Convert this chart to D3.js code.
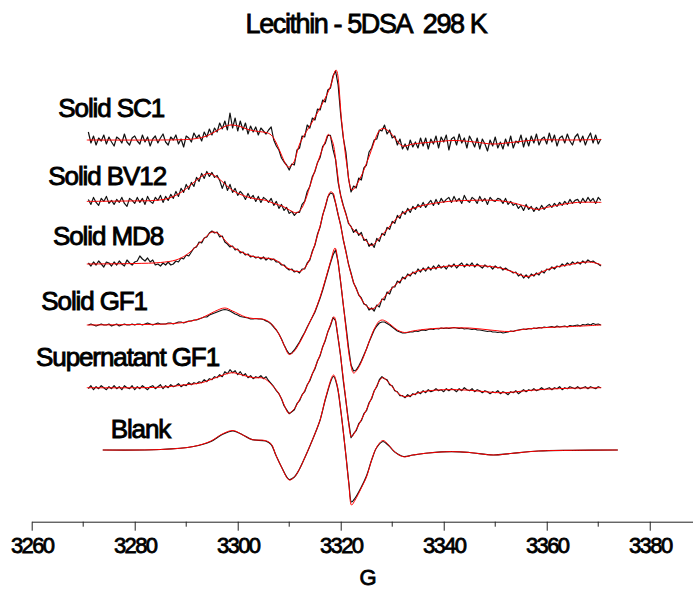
<!DOCTYPE html>
<html>
<head>
<meta charset="utf-8">
<script src="https://d3js.org/d3.v7.min.js"></script>
<style>
  body { margin: 0; background: #fff; }
  svg { display: block; }
  text { font-family: "Liberation Sans", Arial, sans-serif; fill: #000; }
</style>
</head>
<body>
<div id="chart"></div>
<script>
// spectra, top to bottom
const names = ['Solid SC1', 'Solid BV12', 'Solid MD8', 'Solid GF1', 'Supernatant GF1', 'Blank']
// vertical stacking offsets (same units as intensity)
const offsets = [381.7, 320.3, 257.7, 196.7, 134, 71.7]

// experimental traces: sampled every 0.5 G from 3271 G
const fieldStart = 3271
const fieldStep = 0.5
const expSC1 = [
  8, -3, 4, -5, 2, -1, 5, -4, 3, -2,
  -6, 3, 1, -3, 6, -2, -5, 2, 4, -1,
  -4, 5, -2, 3, -6, 1, 4, -3, 2, 6,
  -2, -5, 3, 0, 5, -4, 1, -7, 4, 2,
  -2, 7, 2, 5, -1, 8, 3, 11, 5, 12,
  8, 17, 11, 19, 10, 27, 12, 22, 9, 19,
  10, 17, 6, 14, 8, 13, 5, 12, 9, 6,
  10, 13, 0, -6, -10, -18, -22, -25, -30, -24,
  -25, -10, -8, 4, 3, 15, 12, 22, 20, 31,
  30, 40, 38, 50, 52, 64, 69, 55, 25, 2,
  -12, -38, -52, -46, -48, -38, -40, -28, -25, -12,
  -8, 0, 1, 10, 9, 15, 6, 10, 2, 4,
  -5, 1, -9, -4, -10, 0, -7, -2, -8, 2,
  -6, 2, -9, 1, -4, 4, -8, 3, -2, 5,
  -10, 1, 3, -5, 6, -3, 2, -8, 4, -1,
  -7, 2, -9, 1, -4, -11, 0, -6, 3, -8,
  -2, -9, 1, -6, 4, -8, -1, -3, 5, -7,
  2, -6, 4, -3, 6, -5, 1, 3, -4, 7,
  -2, 5, -6, 2, 4, -3, 6, -1, -5, 3,
  6, -2, 4, -5, 2, 7, -3, 5, -4, 1
]
const expBV12 = [
  2, -3, 4, -1, -4, 3, 0, 5, -2, 1,
  -3, 2, -1, 4, -2, -5, 3, 1, -2, 4,
  -1, 3, -3, 5, 0, -2, 4, 1, 6, -1,
  5, 1, 7, 3, 10, 5, 13, 9, 17, 12,
  19, 15, 24, 20, 28, 23, 30, 25, 29, 24,
  26, 21, 13, 20, 11, 17, 9, 13, 6, 10,
  7, 2, 8, 3, 6, 0, 5, -1, 4, 2,
  -1, 3, -4, 0, -7, -3, -9, -6, -12, -10,
  -14, -11, -11, -3, 0, 10, 15, 25, 30, 39,
  44, 55, 58, 66, 66, 52, 42, 19, 6, -4,
  -12, -22, -25, -31, -28, -34, -31, -39, -38, -45,
  -42, -46, -37, -40, -32, -34, -26, -28, -20, -22,
  -14, -17, -10, -13, -7, -11, -5, -8, -3, -6,
  -1, -6, -2, 1, -4, 2, -3, 3, -1, 2,
  4, -1, 5, 0, 3, -2, 6, 1, -1, 4,
  2, -2, 5, 0, 3, -3, 4, 1, 0, 3,
  2, -2, 3, -3, 0, -4, -2, -7, -4, -9,
  -3, -8, -5, -10, -6, -9, -4, -8, -5, -3,
  -6, -2, -5, -1, -4, 0, -3, 2, -2, 1,
  2, -2, 3, -1, 4, 0, 3, -2, 4, 1
]
const expMD8 = [
  1, -2, 2, -1, 3, 0, -3, 2, 1, -2,
  2, -1, 3, 0, -2, 4, 1, -1, 2, 3,
  8, 5, 3, 6, 2, 4, -1, 0, -2, 1,
  -1, 2, -1, 0, 3, 2, 6, 5, 9, 8,
  12, 16, 17, 22, 21, 26, 27, 31, 33, 31,
  32, 27, 28, 22, 20, 17, 18, 14, 15, 11,
  12, 9, 10, 7, 8, 6, 7, 5, 7, 4,
  6, 4, 5, 2, 2, -1, -1, -4, -6, -5,
  -8, -7, -9, -5, -5, 1, 4, 13, 19, 30,
  37, 49, 57, 67, 71, 70, 61, 49, 39, 24,
  13, 0, -9, -19, -24, -31, -34, -40, -41, -46,
  -44, -47, -41, -43, -35, -36, -28, -30, -23, -23,
  -17, -19, -13, -15, -10, -12, -8, -10, -5, -8,
  -4, -7, -3, -6, -2, -5, -1, -4, -2, -5,
  -1, -3, 0, -4, -1, 1, -3, 0, -2, 1,
  -3, 0, -2, -4, -1, -3, -2, -5, -2, -4,
  -3, -6, -4, -6, -7, -9, -8, -12, -10, -14,
  -11, -14, -10, -12, -9, -11, -7, -9, -5, -6,
  -3, -5, -2, -3, 0, -2, 1, -1, 2, 0,
  2, 0, 3, 1, 4, 2, 3, 1, 0, -2
]
const expGF1 = [
  0, 1, 0, -1, 0, 1, 0, 0, 1, -1,
  0, 1, -1, 0, 1, 0, 0, 1, 0, 1,
  1, 0, 1, 2, 1, 0, 1, 2, 1, 1,
  1, 2, 2, 1, 2, 3, 3, 2, 3, 4,
  4, 5, 5, 6, 7, 8, 8, 10, 11, 12,
  13, 14, 15, 15.5, 15, 14, 12.5, 11, 10, 8.5,
  8, 7.5, 7, 6, 6, 6.5, 6, 6, 5.5, 4,
  3, 1, -2, -5, -9, -14, -20, -25, -29, -28,
  -25, -21, -17, -12, -7.5, -2, 3, 8, 13, 20,
  27, 35, 44, 53, 62, 70, 75, 63, 42, 20,
  0, -22, -40, -46, -45, -41, -36, -30, -24, -17,
  -11, -5, -1, 2, 3, 3, 1.5, 0, -2, -4,
  -6, -7, -8, -8, -7.5, -7, -7, -6, -6.5, -5.5,
  -5, -5.5, -4.5, -4, -4.5, -3.5, -4, -3, -3.5, -3,
  -3.5, -3, -2.5, -3, -3.5, -3, -4, -3.5, -4, -4.5,
  -4, -5, -5, -5.5, -6, -6.5, -6, -7, -7, -7.5,
  -7, -8, -7.5, -7, -6, -6.5, -5.5, -5, -4.5, -4,
  -4.5, -3.5, -4, -3, -3.5, -2.5, -3, -2, -2.5, -2,
  -1.5, -2.5, -1, -2, -1.5, -1, -2, -0.5, -1, -0.5,
  0, -1, 0.5, 0, 1, 0, 1.5, 0.5, 1, 0
]
const expSup = [
  -1, 2, -2, 1, -1, 2, 0, -2, 1, -1,
  2, -1, 1, -2, 2, 0, -1, 2, -2, 1,
  -1, 2, 0, -2, 1, 2, -1, 1, 3, -1,
  2, 0, 3, 1, 2, 4, 1, 3, 2, 5,
  3, 5, 4, 6, 5, 8, 6, 9, 8, 11,
  10, 13, 11, 16, 14, 18, 15, 17, 13, 16,
  12, 14, 10, 12, 9, 11, 10, 12, 9, 11,
  7, 4, 1, -3, -6, -11, -18, -22, -26, -24,
  -22, -16, -13, -7, -4, 3, 7, 14, 19, 27,
  32, 41, 47, 56, 62, 70, 67, 49, 31, 7,
  -13, -33, -50, -46, -43, -36, -33, -26, -23, -15,
  -11, -3, 1, 8, 11, 9, 8, 3, 2, -3,
  -4, -8, -8, -10, -7, -9, -6, -7, -4, -6,
  -3, -5, -2, -4, -3, -1, -3, -2, -4, -1,
  -3, -1, -2, -4, -1, -3, 0, -2, -3, -1,
  -4, -2, -3, -5, -3, -4, -6, -4, -5, -3,
  -6, -4, -5, -7, -4, -5, -3, -6, -4, -2,
  -4, -2, -3, -1, -3, -2, 0, -2, -1, 0,
  -2, 0, -1, 1, -2, 0, -1, 1, 0, -1,
  1, -1, 0, 1, -1, 1, 0, -1, 1, 0
]
// the blank trace is smooth: [G, intensity] points
const expBlank = [[3273.8,0],[3285,0.5],[3291.4,3.5],[3294.8,8.5],[3297,15.5],[3299.1,19],[3301,15],[3302.8,10.4],[3305.4,9],[3306.5,5.5],[3307.4,-5],[3308.5,-17],[3310,-29.5],[3311,-27],[3311.9,-20],[3313,-8],[3314.5,10],[3316,30],[3317.1,52],[3318.6,73.5],[3319.3,64],[3320,40],[3321,-5],[3321.6,-34],[3322.1,-52],[3322.8,-48],[3324,-37],[3325,-26],[3326.1,-8.5],[3327,2.5],[3328.2,8.5],[3329.3,4.5],[3330.5,-2],[3332.2,-6.5],[3334,-5],[3337,-3],[3341.5,-1.6],[3345,-2.5],[3349.6,-5],[3353,-3.5],[3358.4,-1],[3365,-0.3],[3373.8,0]]

// simulated fits (red): [G, intensity]
const fitSC1 = [[3270.7,0],[3285,0],[3290,0.5],[3292,1.5],[3294,4],[3296,9.5],[3298,14.5],[3299,15],[3300.5,13.5],[3302,10.5],[3304,8.5],[3305.5,7.5],[3306.5,5],[3307.5,-3],[3308.5,-15],[3309.8,-27],[3310.8,-23],[3312.1,-3],[3314.7,20],[3316.6,38],[3317.9,52],[3319.1,70],[3320.2,18],[3321.2,-25],[3322.2,-50],[3323.8,-38],[3325.4,-18],[3327.6,10],[3328.4,11.5],[3329.5,8],[3330.5,2],[3332,-6],[3334,-4],[3338,-2],[3342,-0.5],[3346,-2],[3349.6,-4],[3353,-2.5],[3358,0],[3365,0],[3370.6,0.5]]
const fitBV12 = [[3270.7,0],[3280,0.5],[3284,1],[3286.5,3],[3289,9],[3291,17],[3293,25],[3294.3,28],[3296,24],[3297.6,17],[3299,11],[3301,6],[3303,3],[3305.5,1],[3307,-2],[3308.8,-5],[3310,-8.5],[3311.4,-11.5],[3312.4,-7],[3313.4,5],[3314,15],[3315,31],[3316,46],[3317,60],[3317.6,67],[3318.4,60],[3319.2,35],[3320,5],[3321.2,-16],[3321.8,-24],[3322.8,-30],[3323.8,-33],[3325,-40],[3326,-44],[3327.6,-36],[3329,-28],[3330.5,-19],[3332,-12],[3334,-7],[3336,-4],[3338,-2],[3341,0],[3345,1],[3350,1],[3353,-1],[3356,-5],[3358,-8],[3360,-6],[3363,-3],[3366,-1],[3370.6,-1]]
const fitMD8 = [[3270.7,0],[3280,0.5],[3285,1.5],[3288,4],[3290,9],[3292,18],[3294,28],[3295,32],[3296,31],[3297,27],[3298,21],[3300,14],[3302,9],[3303.5,7],[3305,6],[3306.8,5],[3308,2],[3309,-2],[3310.5,-6],[3312,-7.5],[3313,-4],[3314,5],[3315,20],[3316,38],[3317,58],[3318,72],[3318.5,71],[3319,61],[3320,38],[3321,12],[3322,-10],[3323,-25],[3324,-35],[3325,-42],[3326,-45],[3327,-42],[3328,-36],[3330,-24],[3332,-15],[3334,-9],[3336,-5.5],[3338.3,-4],[3341,-2],[3344.9,-1.6],[3348,-2],[3351,-4],[3354,-9],[3356,-12.5],[3358,-10],[3361,-4],[3364,-1],[3367.8,2],[3369.5,1],[3370.6,-1]]
const fitGF1 = [[3270.7,0],[3281,0.5],[3286,1],[3290,3],[3293,7],[3295.5,13.5],[3297.5,17],[3299,14],[3301.5,8],[3303,6.5],[3304.8,6],[3306,3.5],[3307,-1.5],[3308,-9],[3309,-20],[3310,-29.5],[3311,-26],[3312,-18],[3313,-8],[3314,3],[3315,14],[3316,28],[3317,45],[3318,63],[3318.9,77],[3319.6,58],[3320.3,30],[3321,-3],[3321.8,-35],[3322.5,-48],[3323.3,-44],[3324.5,-31],[3325.5,-17],[3326.5,-4],[3327.5,4],[3328.1,5],[3329,3],[3330,-1],[3331,-5],[3332.4,-7.5],[3334,-6],[3336,-4.5],[3340,-3],[3345,-3],[3349,-5],[3352.7,-6.5],[3356,-4],[3360,-2.5],[3365,-1.5],[3370.6,0]]
const fitSup = [[3270.7,0],[3285,0.5],[3290,3],[3293,5],[3296,10.5],[3298.9,15],[3301,12.5],[3303,10],[3305,9.5],[3306.5,3.5],[3308,-6],[3309,-17],[3309.9,-25.5],[3311,-21],[3312,-12],[3313,-3],[3314,8],[3315,20],[3316,33],[3317,48],[3318,63],[3318.7,71],[3319.5,50],[3320.2,22],[3321,-12],[3321.5,-34],[3322.1,-49],[3323,-42],[3324,-32],[3325,-22],[3326,-10],[3327,2],[3328.1,10],[3329,7],[3330,1],[3331,-5],[3332.4,-9],[3334,-7],[3336,-4],[3340,-2],[3345,-2.5],[3349,-4.5],[3352,-5],[3356,-3],[3360,-1.5],[3365,-0.5],[3370.6,0]]
const fitBlank = [[3273.8,0],[3285,0.5],[3291.4,3.5],[3294.8,9],[3297,16],[3299.1,19.5],[3301,15],[3302.8,10.4],[3305.4,9.4],[3306.5,6],[3307.4,-5],[3308.5,-17],[3310,-30],[3311,-27],[3311.9,-20],[3313,-8],[3314.5,10],[3316,30],[3317.1,53],[3318.6,75],[3319.3,65],[3320,40],[3321,-5],[3321.6,-35],[3322.1,-55],[3322.8,-50],[3324,-38],[3325,-27],[3326.1,-8.5],[3327,3],[3328.2,9.5],[3329.3,5],[3330.5,-2],[3332.2,-6.8],[3334,-5],[3337,-3],[3341.5,-1.6],[3345,-2.5],[3349.6,-5],[3353,-3.5],[3358.4,-1],[3365,-0.3],[3373.8,0]]

const majorTicks = [3260, 3280, 3300, 3320, 3340, 3360, 3380]
const minorTicks = [3270, 3290, 3310, 3330, 3350, 3370]
const title = 'Lecithin - 5DSA  298 K'
const xTitle = 'G'

// consts
const width = 693, height = 589
const axisY = 521.7

const svg = d3.select('#chart').append('svg')
  .attr('width', width)
  .attr('height', height)

const x = d3.scaleLinear().domain([3260, 3388.4]).range([31.7, 693])
const y = d3.scaleLinear().domain([0, 520]).range([axisY, 1.7])

// helpers
const sampled = arr => arr.map((v, i) => [fieldStart + i * fieldStep, v])
const rawLine = off => d3.line().x(d => x(d[0])).y(d => y(d[1] + off))
const smoothLine = off => d3.line().x(d => x(d[0])).y(d => y(d[1] + off)).curve(d3.curveCatmullRom.alpha(0.5))

const expData = [sampled(expSC1), sampled(expBV12), sampled(expMD8), sampled(expGF1), sampled(expSup), expBlank]
const fitData = [fitSC1, fitBV12, fitMD8, fitGF1, fitSup, fitBlank]

// drawer: experiment first, fit on top
const plot = svg.append('g')
expData.forEach((d, i) => {
  const gen = i === 5 ? smoothLine(offsets[i]) : rawLine(offsets[i])
  plot.append('path')
    .attr('d', gen(d))
    .attr('fill', 'none')
    .attr('stroke', '#111')
    .attr('stroke-width', 1.2)
    .attr('stroke-linejoin', 'round')
  plot.append('path')
    .attr('d', smoothLine(offsets[i])(fitData[i]))
    .attr('fill', 'none')
    .attr('stroke', '#ff0000')
    .attr('stroke-width', 1)
})

// labels
const labelPos = [
  {x: 164, y: 116.7, anchor: 'end'},
  {x: 166, y: 185, anchor: 'end'},
  {x: 163, y: 244.7, anchor: 'end'},
  {x: 147, y: 310, anchor: 'end'},
  {x: 219, y: 366.3, anchor: 'end'},
  {x: 110.7, y: 438, anchor: 'start'}
]
names.forEach((n, i) => {
  svg.append('text')
    .attr('x', labelPos[i].x)
    .attr('y', labelPos[i].y)
    .attr('text-anchor', labelPos[i].anchor)
    .style('font-size', '26px')
    .style('letter-spacing', '-1.1px')
    .style('stroke', '#000')
    .style('stroke-width', 0.9)
    .text(n)
})

svg.append('text')
  .attr('x', 366)
  .attr('y', 33)
  .attr('text-anchor', 'middle')
  .style('font-size', '27px')
  .style('letter-spacing', '-1.4px')
  .style('white-space', 'pre')
  .style('stroke', '#000')
  .style('stroke-width', 0.8)
  .text(title)

// axis
const axis = svg.append('g').attr('transform', `translate(0,${axisY})`)
axis.call(d3.axisBottom(x).tickValues(majorTicks).tickSize(9).tickSizeOuter(0).tickFormat(d3.format('d')))
axis.select('.domain').attr('stroke', '#222')
axis.selectAll('.tick line').attr('stroke', '#222')
axis.selectAll('.tick text')
  .attr('y', 31.6)
  .attr('dy', 0)
  .style('font-size', '22px')
  .style('letter-spacing', '-1.6px')
  .style('font-family', '"Liberation Sans", Arial, sans-serif')
  .style('stroke', '#000')
  .style('stroke-width', 0.8)
axis.selectAll('.minor')
  .data(minorTicks)
  .enter()
  .append('line')
  .attr('class', 'minor')
  .attr('x1', d => x(d)).attr('x2', d => x(d))
  .attr('y1', 0).attr('y2', 5)
  .attr('stroke', '#222')

svg.append('text')
  .attr('x', 368)
  .attr('y', 585)
  .attr('text-anchor', 'middle')
  .style('font-size', '22px')
  .style('stroke', '#000')
  .style('stroke-width', 0.8)
  .text(xTitle)
</script>
</body>
</html>
